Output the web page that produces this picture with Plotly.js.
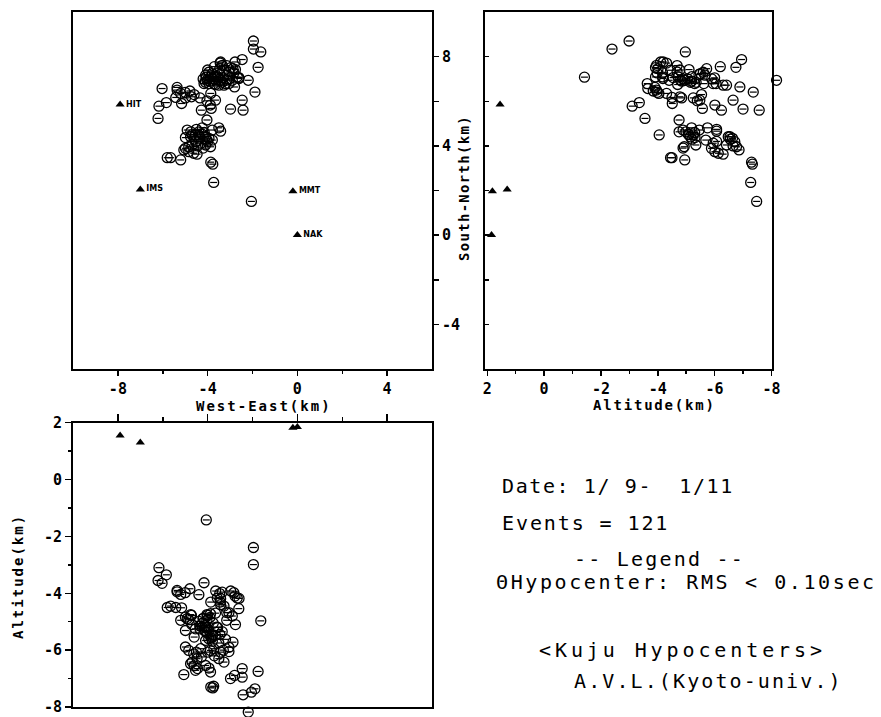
<!DOCTYPE html>
<html>
<head>
<meta charset="utf-8">
<script src="https://cdn.plot.ly/plotly-3.0.1.min.js"></script>
<style>html,body{margin:0;padding:0;background:#fff;}</style>
</head>
<body>
<div id="chart" style="width:881px;height:717px;"></div>
<script>
// Hypocenters: east (km), north (km), altitude (km), one entry per event
const eastKm = [
  -1.96,-1.96,-1.63,-1.75,-2.46,-2.78,-2.87,-3.44,-2.61,-2.19,
  -1.89,-2.46,-2.42,-2.98,-2.80,-2.05,-3.73,-3.86,-3.77,-4.06,
  -3.05,-3.42,-3.35,-3.46,-3.27,-2.97,-2.76,-2.68,-2.60,-2.90,
  -3.05,-3.20,-3.42,-3.64,-3.87,-4.03,-4.16,-3.94,-3.72,-3.50,
  -3.27,-3.05,-2.83,-3.57,-3.79,-4.09,-4.20,-3.60,-3.30,-4.00,
  -3.15,-3.70,-5.36,-5.36,-5.20,-5.42,-5.16,-4.79,-4.72,-4.99,
  -4.34,-4.03,-3.88,-3.65,-4.28,-3.84,-3.86,-4.03,-4.60,-5.00,
  -6.03,-6.17,-5.84,-6.21,-4.24,-3.79,-3.50,-3.42,-4.91,-4.99,
  -4.76,-4.54,-4.39,-4.24,-4.09,-3.94,-3.79,-3.87,-4.09,-4.31,
  -4.54,-4.69,-4.84,-4.99,-5.06,-4.84,-4.62,-4.47,-5.20,-5.80,
  -5.65,-4.75,-4.39,-4.50,-4.20,-4.00,-3.90,-3.75,-3.55,-3.35,
  -3.15,-3.95,-3.45,-3.65,-4.10,-4.35,-4.15,-4.60,-4.45,-4.05,
  -4.70
];
const northKm = [
  8.70,8.34,8.21,7.52,7.87,7.76,7.46,7.71,7.06,6.94,
  6.41,6.05,5.60,5.65,6.64,1.51,2.36,3.27,3.18,7.08,
  7.00,7.76,7.61,7.46,7.39,7.51,7.42,7.09,7.02,6.94,
  6.79,6.79,6.94,7.09,7.09,6.94,6.79,6.79,6.79,6.72,
  6.72,7.31,7.27,7.27,7.24,7.17,7.00,6.90,7.05,7.40,
  7.60,7.55,6.62,6.50,6.35,6.17,5.90,6.46,6.20,6.15,
  6.15,6.02,5.83,6.05,5.60,5.68,6.35,5.16,6.30,6.40,
  6.57,5.78,5.94,5.23,4.81,4.71,4.81,4.66,4.71,4.37,
  4.41,4.49,4.63,4.52,4.41,4.34,4.26,3.96,4.04,4.12,
  4.19,4.04,3.96,3.89,3.82,3.74,3.67,3.63,3.37,3.47,
  3.47,4.63,4.49,4.74,3.90,4.20,6.90,7.00,7.10,6.85,
  6.95,7.30,7.20,6.75,6.85,4.40,4.60,4.30,4.00,4.30,
  4.50
];
const altKm = [
  -2.99,-2.39,-4.97,-6.75,-6.95,-4.10,-5.72,-4.31,-4.54,-8.18,
  -7.36,-6.65,-7.57,-7.00,-6.89,-7.48,-7.27,-7.30,-7.33,-1.42,
  -5.90,-4.19,-3.96,-4.01,-4.45,-3.92,-5.10,-4.17,-4.18,-4.80,
  -6.05,-5.62,-4.40,-3.92,-4.72,-4.95,-3.63,-5.30,-5.95,-6.30,
  -6.42,-4.68,-3.98,-4.17,-5.50,-5.66,-4.88,-5.19,-6.00,-4.78,
  -4.68,-6.20,-3.90,-3.95,-4.04,-4.50,-4.51,-3.84,-4.78,-4.84,
  -5.25,-5.39,-6.01,-5.48,-6.24,-5.57,-4.31,-4.75,-5.54,-3.98,
  -3.65,-3.10,-3.35,-3.55,-5.19,-5.46,-5.75,-6.07,-4.89,-5.31,
  -6.48,-5.25,-4.99,-5.07,-6.54,-6.63,-5.69,-6.77,-5.34,-5.95,
  -6.71,-6.42,-4.93,-5.89,-6.86,-6.01,-6.13,-6.30,-4.95,-4.50,
  -4.45,-4.75,-4.05,-6.07,-4.89,-6.07,-4.85,-5.05,-5.20,-5.35,
  -4.95,-5.60,-5.45,-4.70,-5.15,-5.15,-5.30,-6.55,-6.65,-5.20,
  -5.10
];

// Seismic stations
const stationNames = ['HIT', 'IMS', 'MMT', 'NAK'];
const stationEast  = [-7.9, -7.0, -0.2, 0.0];
const stationNorth = [5.85, 2.05, 1.97, 0.0];
const stationAlt   = [1.55, 1.30, 1.82, 1.85];

// Axis ticks
const weTicks = [-8, -4, 0, 4];
const weTickText = ['-8', '-4', '0', '4'];
const weMinor = [-6, -2, 2];
const snTicks = [8, 4, 0, -4];
const snTickText = ['8', '4', '0', '-4'];
const snMinor = [6, 2, -2];
const snAll = [8, 6, 4, 2, 0, -2, -4];
const altTicks = [2, 0, -2, -4, -6, -8];
const altTickText = ['2', '0', '-2', '-4', '-6', '-8'];
const altMinor = [1, -1, -3, -5, -7];

const W = 881, H = 717;
const px = v => v / W;
const py = v => 1 - v / H;

// Panel frames in page pixels
const P1 = {l: 73, r: 432, t: 12, b: 369};
const P2 = {l: 485, r: 772, t: 12, b: 369};
const P3 = {l: 73, r: 432, t: 422.7, b: 707};
const altRange2 = [2.08, -8.02];
const altRange3 = [-8, 2];

// Hypocenters in panels 2 and 3 sit on hidden axes with the same scale
// but a wider span, so events just beyond the frame stay visible.
const k2 = (P2.r - P2.l) / (altRange2[0] - altRange2[1]);
const P2dataR = 800;
const altRange2Data = [altRange2[0], altRange2[0] - (P2dataR - P2.l) / k2];
const k3 = (P3.b - P3.t) / (altRange3[1] - altRange3[0]);
const altRange3Data = [altRange3[1] - (H - P3.t) / k3, altRange3[1]];

const mono = 'DejaVu Sans Mono, monospace';
const tickFont = {family: mono, size: 15, color: '#000', weight: 'bold'};

function hypoTraces(xs, ys, xa, ya) {
  return [
    {type: 'scatter', mode: 'markers', x: xs, y: ys, xaxis: xa, yaxis: ya,
     cliponaxis: false, hoverinfo: 'skip',
     marker: {symbol: 'circle-open', size: 10, color: '#000', line: {width: 1.3, color: '#000'}}},
    {type: 'scatter', mode: 'markers', x: xs, y: ys, xaxis: xa, yaxis: ya,
     cliponaxis: false, hoverinfo: 'skip',
     marker: {symbol: 'line-ew-open', size: 5, color: '#000', line: {width: 1.2, color: '#000'}}}
  ];
}

const stationMarker = {symbol: 'triangle-up', size: 8, color: '#000', line: {width: 0}};

const data = [
  {type: 'scatter', mode: 'markers+text', x: stationEast, y: stationNorth,
   xaxis: 'x', yaxis: 'y', text: stationNames, textposition: 'middle right',
   textfont: {family: 'DejaVu Sans', size: 8, color: '#000', weight: 'bold'},
   marker: stationMarker, cliponaxis: false, hoverinfo: 'skip'},
  ...hypoTraces(eastKm, northKm, 'x', 'y'),
  {type: 'scatter', mode: 'markers', x: stationAlt, y: stationNorth,
   xaxis: 'x2', yaxis: 'y2', marker: stationMarker, cliponaxis: false, hoverinfo: 'skip'},
  {type: 'scatter', mode: 'markers', x: stationEast, y: stationAlt,
   xaxis: 'x3', yaxis: 'y3', marker: stationMarker, cliponaxis: false, hoverinfo: 'skip'},
  ...hypoTraces(altKm, northKm, 'x4', 'y4'),
  ...hypoTraces(eastKm, altKm, 'x5', 'y5')
];

const frame = {
  showgrid: false, zeroline: false, showline: true, mirror: true,
  linewidth: 2, linecolor: '#000', tickcolor: '#000', tickwidth: 1.5,
  tickfont: tickFont, fixedrange: true
};
const hidden = {visible: false, showgrid: false, zeroline: false, fixedrange: true};

const spaced = (t, s) => '<span style="letter-spacing:' + s + 'px">' + t + '</span>';
const nb = t => t.replace(/ /g, '\u00a0');

const titleFont = {family: mono, size: 14, color: '#000', weight: 'bold'};
const noteFont = {family: mono, size: 20, color: '#000'};

function axisTitle(text, x, y, sp, angle) {
  return {text: spaced(text, sp), x: px(x), y: py(y), xref: 'paper', yref: 'paper',
          xanchor: 'center', yanchor: 'middle', showarrow: false, textangle: angle, font: titleFont};
}
function note(text, x, y, sp) {
  return {text: spaced(nb(text), sp), x: px(x), y: py(y), xref: 'paper', yref: 'paper',
          xanchor: 'left', yanchor: 'middle', showarrow: false, font: noteFont};
}

const layout = {
  width: W, height: H,
  margin: {l: 0, r: 0, t: 0, b: 0, pad: 0},
  paper_bgcolor: '#fff', plot_bgcolor: 'rgba(0,0,0,0)',
  showlegend: false,
  xaxis: Object.assign({}, frame, {
    domain: [px(P1.l), px(P1.r)], range: [-10, 6], anchor: 'y',
    ticks: 'outside', ticklen: 5, tickvals: weTicks, ticktext: weTickText,
    minor: {tickvals: weMinor, ticks: 'outside', ticklen: 3, tickwidth: 1.5, tickcolor: '#000', showgrid: false}
  }),
  yaxis: Object.assign({}, frame, {
    domain: [py(P1.b), py(P1.t)], range: [-6, 10], anchor: 'x', side: 'right',
    ticks: 'outside', ticklen: 5, tickvals: snTicks, ticktext: snTickText,
    minor: {tickvals: snMinor, ticks: 'outside', ticklen: 5, tickwidth: 1.5, tickcolor: '#000', showgrid: false}
  }),
  xaxis2: Object.assign({}, frame, {
    domain: [px(P2.l), px(P2.r)], range: altRange2, anchor: 'y2',
    ticks: 'outside', ticklen: 5, tickvals: altTicks, ticktext: altTickText,
    minor: {tickvals: altMinor, ticks: 'outside', ticklen: 3, tickwidth: 1.5, tickcolor: '#000', showgrid: false}
  }),
  yaxis2: Object.assign({}, frame, {
    domain: [py(P2.b), py(P2.t)], range: [-6, 10], anchor: 'x2',
    ticks: 'inside', ticklen: 4, tickvals: snAll, showticklabels: false
  }),
  xaxis3: Object.assign({}, frame, {
    domain: [px(P3.l), px(P3.r)], range: [-10, 6], anchor: 'y3', side: 'top',
    ticks: 'outside', ticklen: 7, tickvals: weTicks, showticklabels: false,
    minor: {tickvals: weMinor, ticks: 'outside', ticklen: 4, tickwidth: 1.5, tickcolor: '#000', showgrid: false}
  }),
  yaxis3: Object.assign({}, frame, {
    domain: [py(P3.b), py(P3.t)], range: altRange3, anchor: 'x3',
    ticks: 'outside', ticklen: 6, tickvals: altTicks, ticktext: altTickText,
    minor: {tickvals: altMinor, ticks: 'outside', ticklen: 3, tickwidth: 1.5, tickcolor: '#000', showgrid: false}
  }),
  xaxis4: Object.assign({}, hidden, {domain: [px(P2.l), px(P2dataR)], range: altRange2Data, anchor: 'y4'}),
  yaxis4: Object.assign({}, hidden, {domain: [py(P2.b), py(P2.t)], range: [-6, 10], anchor: 'x4'}),
  xaxis5: Object.assign({}, hidden, {domain: [px(P3.l), px(P3.r)], range: [-10, 6], anchor: 'y5'}),
  yaxis5: Object.assign({}, hidden, {domain: [0, py(P3.t)], range: altRange3Data, anchor: 'x5'}),
  annotations: [
    axisTitle('West-East(km)', 264, 406, 2.0, 0),
    axisTitle('Altitude(km)', 654, 405, 1.8, 0),
    axisTitle('South-North(km)', 464, 188, 1.3, -90),
    axisTitle('Altitude(km)', 18, 577, 2.0, -90),
    note('Date: 1/ 9-  1/11', 500, 486, 1.6),
    note('Events = 121', 500, 523, 1.9),
    note('-- Legend --', 572, 559, 2.2),
    note('\u0398Hypocenter: RMS < 0.10sec', 494, 582, 2.6),
    note('<Kuju Hypocenters>', 537, 650, 3.9),
    note('A.V.L.(Kyoto-univ.)', 572, 681, 2.1)
  ]
};

Plotly.newPlot('chart', data, layout, {staticPlot: true, displayModeBar: false});
</script>
</body>
</html>
